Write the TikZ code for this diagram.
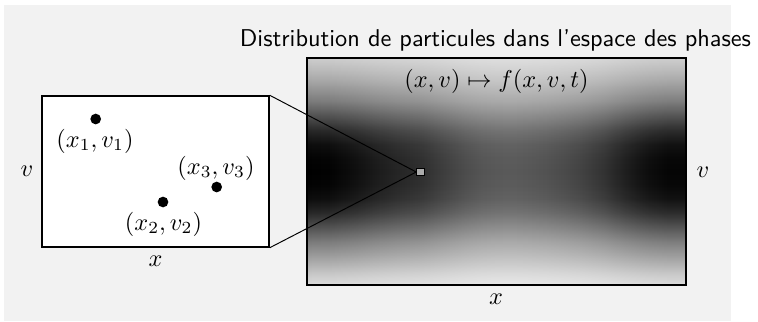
\documentclass[tikz,border=0pt]{standalone}
\usepackage{amsmath}
\usetikzlibrary{fit}
\definecolor{bg}{HTML}{F2F2F2}
% vertical profile (25bp = bottom of box, 75bp = top of box)
\pgfdeclareverticalshading{vband}{100bp}{%
 rgb(0bp)=(0.86,0.86,0.86); rgb(25bp)=(0.86,0.86,0.86);
 rgb(27.5bp)=(0.78,0.78,0.78); rgb(30bp)=(0.67,0.67,0.67);
 rgb(34.5bp)=(0.48,0.48,0.48); rgb(38bp)=(0.30,0.30,0.30);
 rgb(41bp)=(0.15,0.15,0.15); rgb(44bp)=(0.05,0.05,0.05);
 rgb(47bp)=(0.01,0.01,0.01); rgb(50bp)=(0,0,0);
 rgb(53bp)=(0.01,0.01,0.01); rgb(56bp)=(0.05,0.05,0.05);
 rgb(59bp)=(0.15,0.15,0.15); rgb(62bp)=(0.30,0.30,0.30);
 rgb(65.5bp)=(0.48,0.48,0.48); rgb(70bp)=(0.65,0.65,0.65);
 rgb(72.5bp)=(0.73,0.73,0.73); rgb(75bp)=(0.80,0.80,0.80);
 rgb(100bp)=(0.80,0.80,0.80)}
% horizontal modulation (25bp = left edge, 75bp = right edge)
\pgfdeclarehorizontalshading{hmod}{100bp}{%
 rgb(0bp)=(0,0,0); rgb(25bp)=(0,0,0);
 rgb(28bp)=(0.01,0.01,0.01); rgb(31bp)=(0.05,0.05,0.05);
 rgb(34.5bp)=(0.11,0.11,0.11); rgb(37bp)=(0.145,0.145,0.145);
 rgb(40bp)=(0.18,0.18,0.18); rgb(42bp)=(0.22,0.22,0.22);
 rgb(44bp)=(0.26,0.26,0.26); rgb(46bp)=(0.30,0.30,0.30);
 rgb(48bp)=(0.33,0.33,0.33); rgb(50bp)=(0.345,0.345,0.345);
 rgb(52bp)=(0.35,0.35,0.35); rgb(54bp)=(0.34,0.34,0.34);
 rgb(56.5bp)=(0.32,0.32,0.32); rgb(59bp)=(0.29,0.29,0.29);
 rgb(61bp)=(0.26,0.26,0.26); rgb(64bp)=(0.20,0.20,0.20);
 rgb(66.5bp)=(0.13,0.13,0.13); rgb(68.5bp)=(0.08,0.08,0.08);
 rgb(70bp)=(0.05,0.05,0.05); rgb(72.5bp)=(0.02,0.02,0.02);
 rgb(75bp)=(0.02,0.02,0.02); rgb(100bp)=(0.02,0.02,0.02)}
\begin{document}
\begin{tikzpicture}[x=0.4115pt,y=-0.4115pt,
  frame/.style={draw, semithick, inner sep=0pt},
  dot/.style={circle, fill=black, inner sep=0pt, minimum size=4.4pt},
  lab/.style={inner sep=0pt}]
\useasboundingbox (0,0) rectangle (758,321);
\fill[bg] (4,5) rectangle (731,321);
% phase-space picture
\coordinate (bigNW) at (307,58);
\coordinate (bigSE) at (686,285);
\shade[shading=vband] (bigNW) rectangle (bigSE);
\shade[shading=hmod, blend mode=screen] (bigNW) rectangle (bigSE);
\node[frame, fit=(bigNW)(bigSE)] (big) {};
% zoom box
\coordinate (zNW) at (42,96);
\coordinate (zSE) at (269,247);
\node[frame, fill=white, fit=(zNW)(zSE)] (zoom) {};
% connectors and marker
\node[inner sep=0pt, minimum width=3.1pt, minimum height=2.6pt] (pt) at (420.5,172) {};
\draw (zoom.north east) -- (pt.west);
\draw (zoom.south east) -- (pt.west);
\node[draw=black, fill=gray!65, line width=0.45pt, inner sep=0pt, minimum width=3.1pt, minimum height=2.6pt] (ptbox) at (pt) {};
% particles
\node[dot] (p1) at (95.7,119) {};
\node[dot] (p2) at (163,202) {};
\node[dot] (p3) at (216.7,187) {};
\node[lab] (l1) at (95,141) {$(x_1,v_1)$};
\node[lab] (l2) at (163.5,224) {$(x_2,v_2)$};
\node[lab] (l3) at (216,168) {$(x_3,v_3)$};
% axes labels
\node[lab] (zv) at (27,171.5) {$v$};
\node[lab] (zx) at (155.5,261) {$x$};
\node[lab] (bv) at (703,172) {$v$};
\node[lab] (bx) at (496,299.5) {$x$};
\node[lab] (map) at (496.5,81) {$(x,v)\mapsto f(x,v,t)$};
\node[lab, font=\sffamily] (title) at (495.5,40) {Distribution de particules dans l'espace des phases};
\end{tikzpicture}
\end{document}
